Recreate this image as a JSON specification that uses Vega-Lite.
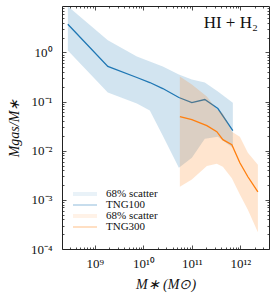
{
  "$schema": "https://vega.github.io/schema/vega-lite/v6.json",
  "autosize": "none",
  "padding": {"left": 62, "top": 6, "right": 3, "bottom": 45},
  "width": 207,
  "height": 243,
  "background": "white",
  "config": {
    "view": {"stroke": null},
    "axis": {
      "domainColor": "#222222",
      "domainWidth": 1,
      "tickColor": "#222222",
      "tickWidth": 0.8,
      "grid": false,
      "labelFont": "Liberation Serif",
      "labelFontSize": 13,
      "labelColor": "#111111",
      "titleFont": "Liberation Serif",
      "titleFontSize": 14,
      "titleFontWeight": "normal",
      "titleFontStyle": "italic",
      "titleColor": "#111111",
      "labelOverlap": false,
      "labelFlush": false
    }
  },
  "datasets": {
    "tng100": [
      {"mstar": 2.77e8, "med": 3.73, "lo": 1.1, "hi": 8.68},
      {"mstar": 1.85e9, "med": 0.518, "lo": 0.153, "hi": 1.76},
      {"mstar": 7.35e9, "med": 0.309, "lo": 0.091, "hi": 0.83},
      {"mstar": 1.36e10, "med": 0.244, "lo": 0.066, "hi": 0.655},
      {"mstar": 2.52e10, "med": 0.184, "lo": 0.0202, "hi": 0.518},
      {"mstar": 5.4e10, "med": 0.121, "lo": 0.0045, "hi": 0.356},
      {"mstar": 1.0e11, "med": 0.095, "lo": 0.0072, "hi": 0.281},
      {"mstar": 1.85e11, "med": 0.11, "lo": 0.0176, "hi": 0.244},
      {"mstar": 3.44e11, "med": 0.072, "lo": 0.0193, "hi": 0.16},
      {"mstar": 7.0e11, "med": 0.0256, "lo": 0.0115, "hi": 0.095}
    ],
    "tng300": [
      {"mstar": 5.66e10, "med": 0.0494, "lo": 0.00184, "hi": 0.324},
      {"mstar": 1.0e11, "med": 0.043, "lo": 0.0026, "hi": 0.222},
      {"mstar": 2.04e11, "med": 0.0324, "lo": 0.0049, "hi": 0.1265},
      {"mstar": 3.27e11, "med": 0.0244, "lo": 0.0054, "hi": 0.0687},
      {"mstar": 4.36e11, "med": 0.0168, "lo": 0.0047, "hi": 0.0569},
      {"mstar": 6.68e11, "med": 0.0133, "lo": 0.00275, "hi": 0.0244},
      {"mstar": 9.77e11, "med": 0.00569, "lo": 0.00129, "hi": 0.0193},
      {"mstar": 1.43e12, "med": 0.00295, "lo": 0.00063, "hi": 0.0091},
      {"mstar": 2.3e12, "med": 0.00146, "lo": 0.00022, "hi": 0.0052}
    ],
    "legend": [
      {"entry": "s100"},
      {"entry": "l100"},
      {"entry": "s300"},
      {"entry": "l300"}
    ],
    "note": [{"label": "HI + H₂", "mstar": 2.3e12, "y": 3.2}]
  },
  "resolve": {"axis": {"x": "independent", "y": "independent"}},
  "layer": [
    {
      "data": {"name": "tng100"},
      "mark": {"type": "area", "color": "#1f77b4", "opacity": 0.2},
      "encoding": {
        "x": {
          "field": "mstar", "type": "quantitative",
          "scale": {"type": "log", "domain": [2.1e8, 3.9e12], "nice": false},
          "axis": {
            "orient": "bottom",
            "title": "M∗ (M⊙)",
            "values": [3e8,4e8,5e8,6e8,7e8,8e8,9e8,1e9,2e9,3e9,4e9,5e9,6e9,7e9,8e9,9e9,1e10,2e10,3e10,4e10,5e10,6e10,7e10,8e10,9e10,1e11,2e11,3e11,4e11,5e11,6e11,7e11,8e11,9e11,1e12,2e12,3e12],
            "labelExpr": "datum.value == 1e9 ? '10⁹' : datum.value == 1e10 ? '10¹⁰' : datum.value == 1e11 ? '10¹¹' : datum.value == 1e12 ? '10¹²' : ''",
            "tickSize": {"condition": {"test": "abs(log(datum.value)/LN10 - round(log(datum.value)/LN10)) < 1e-6", "value": -4}, "value": -2},
            "labelPadding": 12,
            "titlePadding": 5
          }
        },
        "y": {
          "field": "hi", "type": "quantitative",
          "scale": {"type": "log", "domain": [0.0001, 8.8], "nice": false},
          "axis": {
            "orient": "left",
            "title": "Mgas/M∗",
            "values": [0.0001,0.0002,0.0003,0.0004,0.0005,0.0006,0.0007,0.0008,0.0009,0.001,0.002,0.003,0.004,0.005,0.006,0.007,0.008,0.009,0.01,0.02,0.03,0.04,0.05,0.06,0.07,0.08,0.09,0.1,0.2,0.3,0.4,0.5,0.6,0.7,0.8,0.9,1,2,3,4,5,6,7,8],
            "labelExpr": "datum.value == 1 ? '10⁰' : datum.value == 0.1 ? '10⁻¹' : datum.value == 0.01 ? '10⁻²' : datum.value == 0.001 ? '10⁻³' : datum.value == 0.0001 ? '10⁻⁴' : ''",
            "tickSize": {"condition": {"test": "abs(log(datum.value)/LN10 - round(log(datum.value)/LN10)) < 1e-6", "value": -4}, "value": -2},
            "labelPadding": 14,
            "titlePadding": 9
          }
        },
        "y2": {"field": "lo"}
      }
    },
    {
      "data": {"name": "tng100"},
      "mark": {"type": "line", "color": "#1f77b4", "strokeWidth": 1.3},
      "encoding": {
        "x": {
          "field": "mstar", "type": "quantitative",
          "axis": {
            "orient": "top",
            "title": null,
            "labels": false,
            "values": [3e8,4e8,5e8,6e8,7e8,8e8,9e8,1e9,2e9,3e9,4e9,5e9,6e9,7e9,8e9,9e9,1e10,2e10,3e10,4e10,5e10,6e10,7e10,8e10,9e10,1e11,2e11,3e11,4e11,5e11,6e11,7e11,8e11,9e11,1e12,2e12,3e12],
            "tickSize": {"condition": {"test": "abs(log(datum.value)/LN10 - round(log(datum.value)/LN10)) < 1e-6", "value": -4}, "value": -2}
          }
        },
        "y": {
          "field": "med", "type": "quantitative",
          "axis": {
            "orient": "right",
            "title": null,
            "labels": false,
            "values": [0.0001,0.0002,0.0003,0.0004,0.0005,0.0006,0.0007,0.0008,0.0009,0.001,0.002,0.003,0.004,0.005,0.006,0.007,0.008,0.009,0.01,0.02,0.03,0.04,0.05,0.06,0.07,0.08,0.09,0.1,0.2,0.3,0.4,0.5,0.6,0.7,0.8,0.9,1,2,3,4,5,6,7,8],
            "tickSize": {"condition": {"test": "abs(log(datum.value)/LN10 - round(log(datum.value)/LN10)) < 1e-6", "value": -4}, "value": -2}
          }
        }
      }
    },
    {
      "data": {"name": "tng300"},
      "mark": {"type": "area", "color": "#ff7f0e", "opacity": 0.2},
      "encoding": {
        "x": {"field": "mstar", "type": "quantitative", "axis": null},
        "y": {"field": "hi", "type": "quantitative", "axis": null},
        "y2": {"field": "lo"}
      }
    },
    {
      "data": {"name": "tng300"},
      "mark": {"type": "line", "color": "#ff7f0e", "strokeWidth": 1.3},
      "encoding": {
        "x": {"field": "mstar", "type": "quantitative", "axis": null},
        "y": {"field": "med", "type": "quantitative", "axis": null}
      }
    },
    {
      "data": {"name": "note"},
      "mark": {"type": "text", "align": "right", "baseline": "alphabetic", "font": "Liberation Serif", "fontSize": 17, "color": "#111111"},
      "encoding": {
        "x": {"field": "mstar", "type": "quantitative", "axis": null},
        "y": {"field": "y", "type": "quantitative", "axis": null},
        "text": {"field": "label"}
      }
    },
    {
      "data": {"name": "legend"},
      "mark": {"type": "point", "filled": true, "size": 0, "strokeWidth": 0},
      "encoding": {
        "color": {
          "field": "entry", "type": "nominal",
          "scale": {"domain": ["s100", "l100", "s300", "l300"], "range": ["#d2e4f0", "#1f77b4", "#ffe5cf", "#ff7f0e"]},
          "legend": {
            "orient": "bottom-left",
            "title": null,
            "offset": 17,
            "padding": 0,
            "symbolSize": 144,
            "symbolStrokeWidth": 0,
            "symbolOpacity": 1,
            "labelOffset": 15,
            "rowPadding": 0,
            "labelFont": "Liberation Serif",
            "labelFontSize": 11,
            "labelColor": "#111111",
            "labelExpr": "datum.label == 'l100' ? 'TNG100' : datum.label == 'l300' ? 'TNG300' : '68% scatter'"
          }
        },
        "shape": {
          "field": "entry", "type": "nominal",
          "scale": {"domain": ["s100", "l100", "s300", "l300"], "range": ["M-2,-0.33H2V0.33H-2Z", "M-2,-0.085H2V0.085H-2Z", "M-2,-0.33H2V0.33H-2Z", "M-2,-0.085H2V0.085H-2Z"]}
        }
      }
    }
  ]
}
